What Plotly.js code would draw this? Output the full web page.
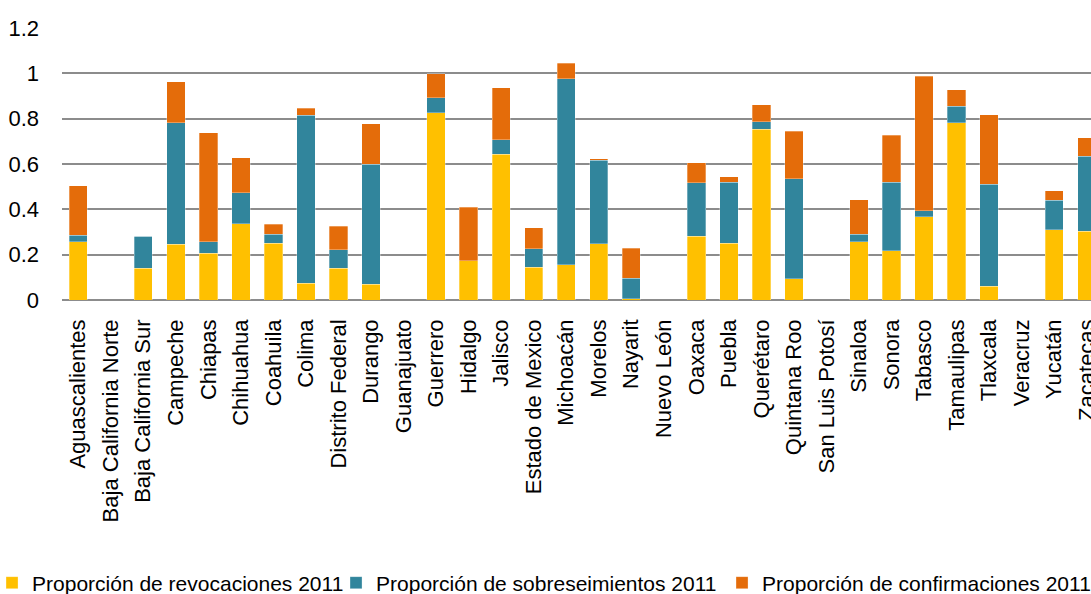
<!DOCTYPE html>
<html>
<head>
<meta charset="utf-8">
<script src="https://cdn.plot.ly/plotly-3.0.1.min.js"></script>
<style>
  html, body { margin: 0; padding: 0; overflow: hidden; background: #fff; width: 1091px; height: 594px; }
  #chart { width: 1110px; height: 594px; }
</style>
</head>
<body>
<div id="chart"></div>
<script>
const estados = ["Aguascalientes", "Baja California Norte", "Baja California Sur", "Campeche", "Chiapas",
  "Chihuahua", "Coahuila", "Colima", "Distrito Federal", "Durango", "Guanajuato", "Guerrero", "Hidalgo",
  "Jalisco", "Estado de Mexico", "Michoacán", "Morelos", "Nayarit", "Nuevo León", "Oaxaca", "Puebla",
  "Querétaro", "Quintana Roo", "San Luis Potosí", "Sinaloa", "Sonora", "Tabasco", "Tamaulipas",
  "Tlaxcala", "Veracruz", "Yucatán", "Zacatecas"];

const revocaciones = [0.257, 0, 0.140, 0.247, 0.206, 0.336, 0.251, 0.073, 0.139, 0.070, 0, 0.826, 0.174,
  0.643, 0.145, 0.155, 0.248, 0.006, 0, 0.281, 0.250, 0.753, 0.093, 0, 0.257, 0.218, 0.367, 0.783,
  0.060, 0, 0.311, 0.304];

const sobreseimientos = [0.028, 0, 0.142, 0.536, 0.051, 0.138, 0.040, 0.741, 0.083, 0.529, 0, 0.067, 0,
  0.064, 0.081, 0.821, 0.369, 0.090, 0, 0.237, 0.270, 0.033, 0.443, 0, 0.034, 0.302, 0.026, 0.071,
  0.450, 0, 0.130, 0.330];

const confirmaciones = [0.219, 0, 0, 0.179, 0.481, 0.154, 0.044, 0.032, 0.104, 0.179, 0, 0.105, 0.235,
  0.229, 0.092, 0.068, 0.007, 0.132, 0, 0.087, 0.024, 0.075, 0.208, 0, 0.152, 0.206, 0.595, 0.073,
  0.308, 0, 0.040, 0.082];

const nombresSeries = ["Proporción de revocaciones 2011", "Proporción de sobreseimientos 2011", "Proporción de confirmaciones 2011"];
const yTicks = [0, 0.2, 0.4, 0.6, 0.8, 1, 1.2];
const yTickText = ["0", "0.2", "0.4", "0.6", "0.8", "1", "1.2"];

const FONT = "Liberation Sans, Arial, sans-serif";
const colores = ["#FFC000", "#31859C", "#E46C0A"];
const anchosLeyenda = [299, 341, 326];

const datos = [revocaciones, sobreseimientos, confirmaciones].map((vals, i) => ({
  type: "bar",
  x: estados,
  y: vals,
  name: nombresSeries[i],
  marker: { color: colores[i], line: { color: "rgba(255,255,255,0.5)", width: 0.6 } },
  legendwidth: anchosLeyenda[i],
  hoverinfo: "skip"
}));

const layout = {
  width: 1110,
  height: 594,
  barmode: "stack",
  bargap: 0.4375,
  paper_bgcolor: "#ffffff",
  plot_bgcolor: "#ffffff",
  font: { family: FONT, size: 21, color: "#000000" },
  margin: { l: 62, r: 6.7, t: 27.5, b: 293.7, pad: 0, autoexpand: false },
  showlegend: true,
  legend: {
    orientation: "h",
    traceorder: "normal",
    x: (-8 - 62) / 1041.3,
    xanchor: "left",
    y: -0.965,
    yanchor: "top",
    font: { family: FONT, size: 21, color: "#000000" },
    bgcolor: "rgba(0,0,0,0)",
    borderwidth: 0
  },
  xaxis: {
    type: "category",
    tickangle: -90,
    showgrid: false,
    showline: false,
    zeroline: false,
    ticks: "",
    ticklabelstandoff: 14,
    tickfont: { family: FONT, size: 22, color: "#000000" },
    fixedrange: true
  },
  yaxis: {
    range: [0, 1.2],
    tickvals: yTicks,
    ticktext: yTickText,
    showgrid: true,
    gridcolor: "#8c8c8c",
    gridwidth: 2,
    zeroline: true,
    zerolinecolor: "#8c8c8c",
    zerolinewidth: 2,
    showline: false,
    ticks: "",
    ticklabelstandoff: 22,
    tickfont: { family: FONT, size: 22, color: "#000000" },
    fixedrange: true
  }
};

Plotly.newPlot("chart", datos, layout, { displayModeBar: false, staticPlot: true });
</script>
</body>
</html>
